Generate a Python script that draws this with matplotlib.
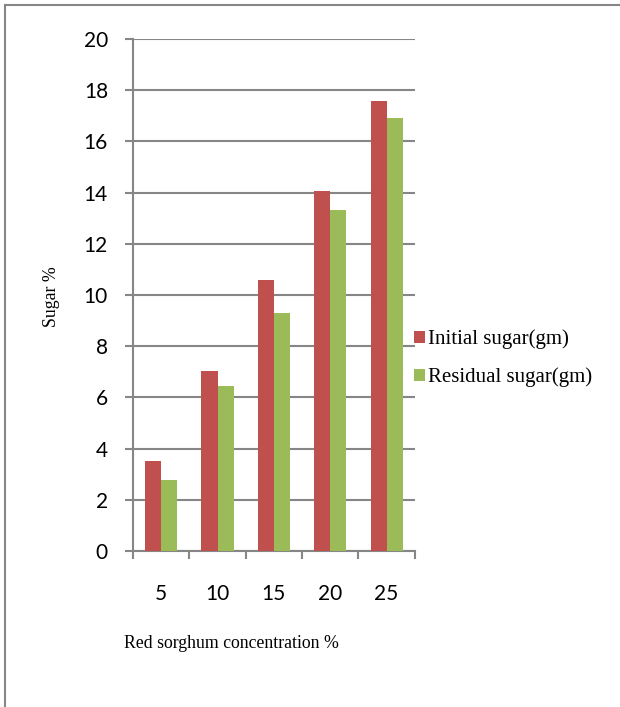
import numpy as np
import matplotlib.pyplot as plt
from matplotlib.lines import Line2D

concentration = ['5', '10', '15', '20', '25']
initial_sugar = [3.52, 7.03, 10.57, 14.07, 17.59]
residual_sugar = [2.76, 6.45, 9.3, 13.32, 16.93]

red = '#C0504D'
green = '#9BBB59'
grey = '#868686'

fig = plt.figure(figsize=(6.2, 7.07), dpi=100)
ax = fig.add_axes([0.2145, 0.2207, 0.669 - 0.2145, 0.7241])

x = np.arange(len(concentration))
w = 0.285
ax.bar(x - w / 2, initial_sugar, w, color=red, label='Initial sugar(gm)', zorder=3)
ax.bar(x + w / 2, residual_sugar, w, color=green, label='Residual sugar(gm)', zorder=3)

ax.set_xlim(-0.5, len(concentration) - 0.5)
ax.set_ylim(0, 20)
ax.set_yticks(range(0, 21, 2))
ax.set_xticks(np.arange(-0.5, len(concentration), 1.0))
ax.set_xticklabels([])
ax.set_xticks(x, minor=True)
ax.set_xticklabels(concentration, minor=True)
ax.tick_params(axis='x', which='minor', length=0, pad=24, labelsize=15)
ax.tick_params(axis='x', which='major', length=6, color=grey, width=1.5)
ax.tick_params(axis='y', length=6, color=grey, width=1.5, pad=12, labelsize=15)
for lab in ax.get_xticklabels(minor=True) + ax.get_yticklabels():
    lab.set_family('Lato')

ax.grid(axis='y', color=grey, linewidth=1.5, zorder=0)
for s in ['top', 'right']:
    ax.spines[s].set_visible(False)
for s in ['left', 'bottom']:
    ax.spines[s].set_color(grey)
    ax.spines[s].set_linewidth(1.5)

fig.text(231 / 620, 1 - 643 / 707, 'Red sorghum concentration %', ha='center', va='center',
         family='Liberation Serif', fontsize=12.8)
fig.text(51 / 620, 1 - 297 / 707, 'Sugar %', ha='center', va='center', rotation=90,
         family='Liberation Serif', fontsize=12.8)

fig.legend(handles=ax.get_legend_handles_labels()[0], loc='center left',
           bbox_to_anchor=(414 / 620, 1 - 358.5 / 707), frameon=False,
           prop={'family': 'Liberation Serif', 'size': 15}, handlelength=0.53,
           handleheight=0.53, handletextpad=0.15, labelspacing=0.87,
           borderpad=0, borderaxespad=0)

# page frame
fig.add_artist(Line2D([5 / 620, 5 / 620], [0, 1 - 5 / 707], color=grey, lw=1.5,
                      transform=fig.transFigure))
fig.add_artist(Line2D([5 / 620, 1], [1 - 5 / 707, 1 - 5 / 707], color=grey, lw=1.5,
                      transform=fig.transFigure))

fig.savefig('out.png', dpi=100)
